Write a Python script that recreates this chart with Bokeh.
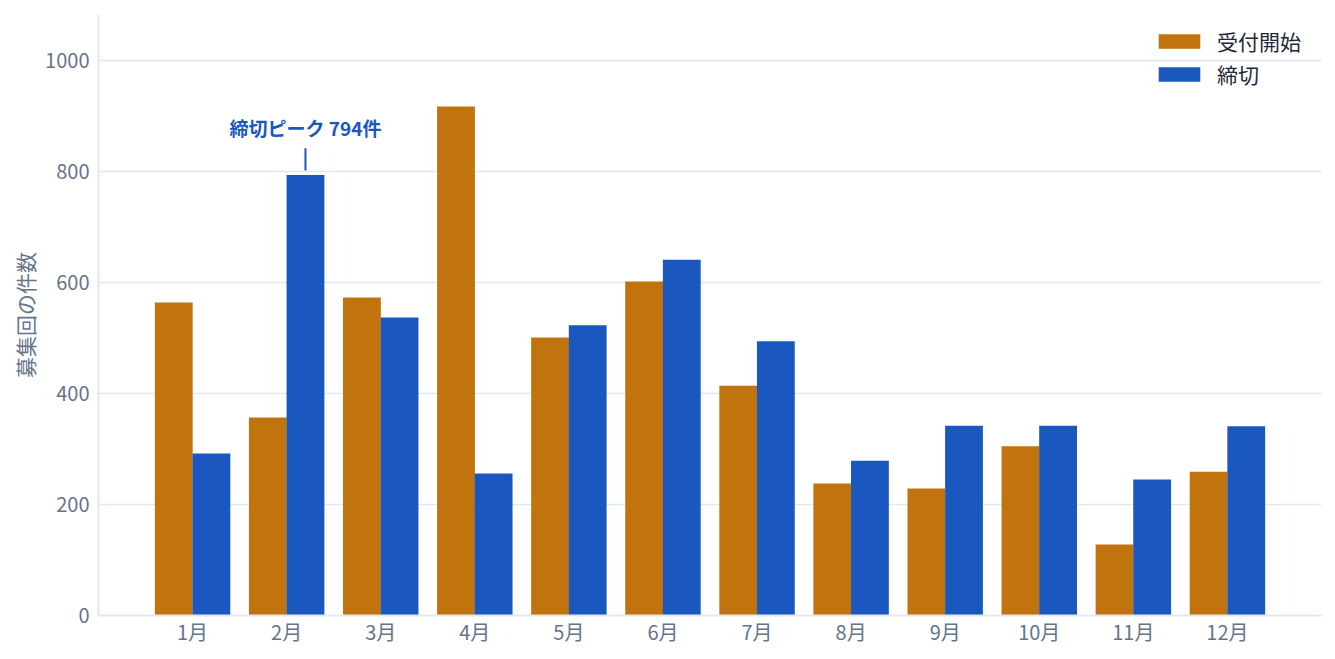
from bokeh.plotting import figure
from bokeh.models import ColumnDataSource, FactorRange, Legend, LegendItem
from bokeh.transform import dodge
from bokeh.core.properties import value
from bokeh.embed import file_html
from bokeh.resources import INLINE

# data
months = ["1月", "2月", "3月", "4月", "5月", "6月", "7月", "8月", "9月", "10月", "11月", "12月"]
open_counts = [564, 357, 573, 917, 501, 602, 414, 238, 229, 305, 128, 259]
close_counts = [292, 794, 537, 256, 523, 641, 494, 279, 342, 342, 245, 341]
y_ticks = [0, 200, 400, 600, 800, 1000]

FONT = "Noto Sans CJK JP"
ORANGE = "#c1740d"
BLUE = "#1a58c0"
GRID = "#e2e8f0"
LABEL = "#64748b"

source = ColumnDataSource(data=dict(month=months, open=open_counts, close=close_counts))

p = figure(x_range=FactorRange(factors=months, range_padding=0.5, range_padding_units="absolute"),
           y_range=(0, 1083), width=1327, height=648,
           output_backend="svg", toolbar_location=None,
           min_border_left=98, min_border_right=6, min_border_top=14, min_border_bottom=0)
p.outline_line_color = None
p.background_fill_color = "white"

# bars slightly wider than the dodge so neighbours meet without a seam
r1 = p.vbar(x=dodge("month", -0.2, range=p.x_range), top="open", width=0.402, source=source,
            color=ORANGE, line_color=None)
r2 = p.vbar(x=dodge("month", 0.2, range=p.x_range), top="close", width=0.402, source=source,
            color=BLUE, line_color=None)

# annotation on the closing peak
peak_i = close_counts.index(max(close_counts))
ann = ColumnDataSource(data=dict(month=[months[peak_i]], y0=[max(close_counts) + 8],
                                 y1=[max(close_counts) + 48], ty=[max(close_counts) + 85],
                                 label=["締切ピーク %d件" % max(close_counts)]))
p.segment(x0=dodge("month", 0.2, range=p.x_range), x1=dodge("month", 0.2, range=p.x_range),
          y0="y0", y1="y1", source=ann, line_color=BLUE, line_width=2)
p.text(x=dodge("month", 0.2, range=p.x_range), y="ty", text="label", source=ann,
       text_font=value(FONT), text_font_size="19px", text_font_style="bold",
       text_color=BLUE, text_align="center", text_baseline="middle")

# axes
p.xaxis.axis_line_color = GRID
p.xaxis.axis_line_width = 2
p.xaxis.major_tick_line_color = None
p.xaxis.major_tick_out = 0
p.xaxis.minor_tick_line_color = None
p.xaxis.major_label_text_font = FONT
p.xaxis.major_label_text_font_size = "20px"
p.xaxis.major_label_text_color = LABEL
p.xaxis.major_label_standoff = 1

p.yaxis.ticker = y_ticks
p.yaxis.axis_line_color = GRID
p.yaxis.axis_line_width = 2
p.yaxis.major_tick_line_color = None
p.yaxis.major_tick_out = 0
p.yaxis.minor_tick_line_color = None
p.yaxis.major_label_text_font = FONT
p.yaxis.major_label_text_font_size = "20px"
p.yaxis.major_label_text_color = LABEL
p.yaxis.major_label_standoff = 9
p.yaxis.axis_label = "募集回の件数"
p.yaxis.axis_label_text_font = FONT
p.yaxis.axis_label_text_font_size = "21px"
p.yaxis.axis_label_text_font_style = "normal"
p.yaxis.axis_label_text_color = LABEL
p.yaxis.axis_label_standoff = 2

p.xgrid.grid_line_color = None
p.ygrid.grid_line_color = GRID
p.ygrid.grid_line_width = 1.5

legend = Legend(items=[LegendItem(label="受付開始", renderers=[r1]),
                       LegendItem(label="締切", renderers=[r2])],
                location="top_right", border_line_color=None, background_fill_alpha=0,
                label_text_font=FONT, label_text_font_size="21px", label_text_color="#1e293b",
                glyph_width=52, glyph_height=18, label_standoff=12, spacing=3,
                label_width=92, margin=12, padding=6)
p.add_layout(legend)

open("out.html", "w").write(file_html(p, INLINE))
